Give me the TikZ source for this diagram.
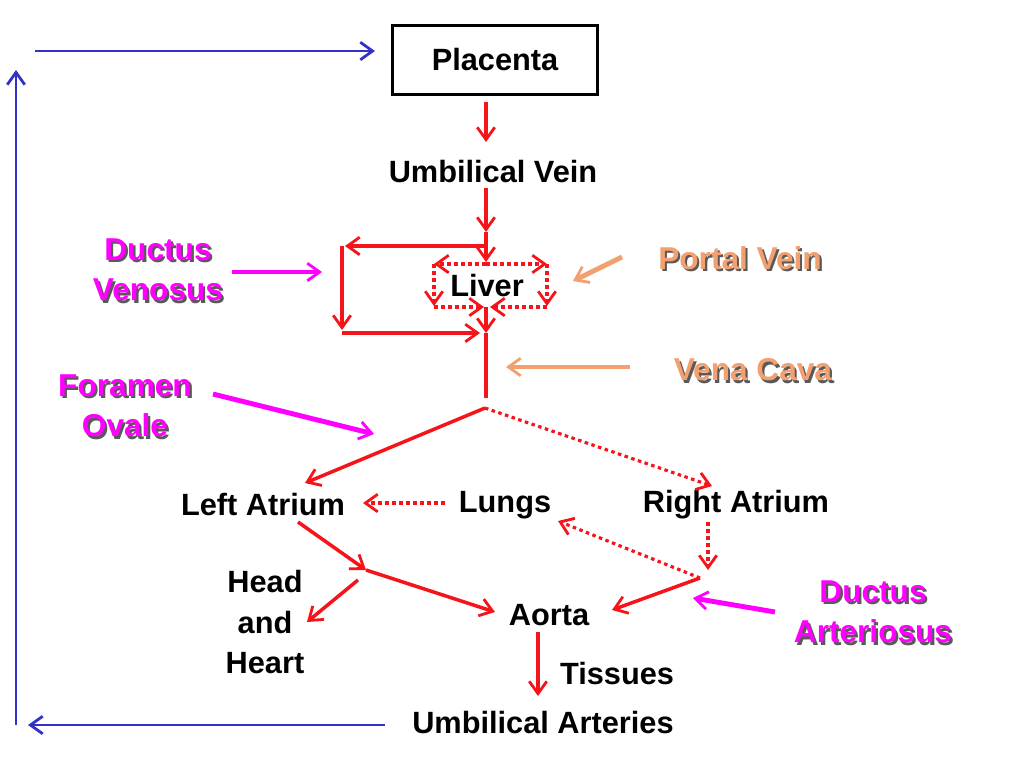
\documentclass[tikz,border=0pt]{standalone}
\usepackage{fontspec}
\setmainfont{Liberation Sans}
\usetikzlibrary{arrows.meta}
\definecolor{flow}{RGB}{245, 20, 25}
\definecolor{mag}{RGB}{255, 0, 255}
\definecolor{salmon}{RGB}{242, 160, 112}
\definecolor{loop}{RGB}{50, 50, 200}

\newcommand{\shadowlabel}[4]{%
  \node[lbl,text=gray!70!black] at ([xshift=1.2pt,yshift=-1.2pt]#1,#2) {#4};
  \node[lbl,text=#3] at (#1,#2) {#4};}

\begin{document}
\begin{tikzpicture}[
        x=0.02cm, y=-0.02cm,
        every node/.style={font=\fontsize{17.5}{23}\selectfont\bfseries},
        lbl/.style={align=center, font=\fontsize{18}{23}\selectfont\bfseries},
        tip/.style={-{Straight Barb[length=7pt,width=10pt,line width=1.6pt]}},
        vessel/.style={draw=flow, line width=2pt},
        dots/.style={vessel, dotted, line width=1.8pt},
        pointer/.style={line width=2.8pt, tip},
        return/.style={draw=loop, line width=1.6pt, tip}
    ]
    \useasboundingbox (0,0) rectangle (1024,768);

    % main chain
    \node[draw, line width=1.3pt, minimum width=205*0.02cm, minimum height=69*0.02cm] (placenta) at (495,60) {Placenta};
    \node (uvein) at (493,172) {Umbilical Vein};
    \node[inner sep=1pt] (liver) at (487,286) {Liver};
    \node (latrium) at (263,505) {Left Atrium};
    \node (lungs) at (505,505) {Lungs};
    \node (ratrium) at (736,505) {Right Atrium};
    \node[align=center] (head) at (265,622) {Head\\and\\Heart};
    \node (aorta) at (549,615) {Aorta};
    \node (tissues) at (617,673) {Tissues};
    \node (uart) at (543,722) {Umbilical Arteries};

    \coordinate (split) at (485,408);
    \coordinate (fork) at (366,570);
    \coordinate (ra low) at (700,578);

    \draw[vessel, tip] (486,102) -- (486,142);
    \draw[vessel, tip] (486,188) -- (486,232);
    \draw[vessel, tip] (486,232) -- (486,262);
    % ductus venosus bypass
    \draw[vessel, tip] (486,246) -- (345,246);
    \draw[vessel, tip] (342,246) -- (342,330);
    \draw[vessel, tip] (342,333) -- (480,333);
    % liver sinusoids
    \draw[dots, tip] (486,264) -- (434,264);
    \draw[dots, tip] (486,264) -- (547,264);
    \draw[dots, tip] (434,264) -- (434,306);
    \draw[dots, tip] (547,264) -- (547,306);
    \draw[dots, tip] (434,307) -- (484,307);
    \draw[dots, tip] (547,307) -- (490,307);
    \draw[vessel, tip] (486,307) -- (486,333);
    \draw[vessel] (486,333) -- (486,398);
    % atria
    \draw[vessel, tip] (split) -- (305,483);
    \draw[dots, tip] (split) -- (712,486);
    \draw[dots, tip] (445,503) -- (363,503);
    \draw[dots, tip] (708,522) -- (708,570);
    \draw[dots, tip] (ra low) -- (558,521);
    \draw[vessel, tip] (ra low) -- (612,610);
    \draw[vessel, tip] (298,522) -- (fork);
    \draw[vessel, tip] (fork) -- (495,612);
    \draw[vessel, tip] (358,580) -- (307,622);
    \draw[vessel, tip] (538,632) -- (538,696);

    % labels with pointers
    \shadowlabel{158}{270}{mag}{Ductus\\Venosus}
    \draw[mag, pointer] (232,272) -- (322,272);
    \shadowlabel{125}{406}{mag}{Foramen\\Ovale}
    \draw[mag, pointer] (213,394) -- (374,434);
    \shadowlabel{740}{258}{salmon}{Portal Vein}
    \draw[salmon, pointer] (622,257) -- (573,281);
    \shadowlabel{753}{370}{salmon}{Vena Cava}
    \draw[salmon, pointer] (630,367) -- (506,367);
    \shadowlabel{873}{612}{mag}{Ductus\\Arteriosus}
    \draw[mag, pointer] (775,612) -- (693,598);

    % return to placenta
    \draw[return] (385,725) -- (28,725);
    \draw[return] (16,725) -- (16,70);
    \draw[return] (35,51) -- (375,51);
\end{tikzpicture}
\end{document}
